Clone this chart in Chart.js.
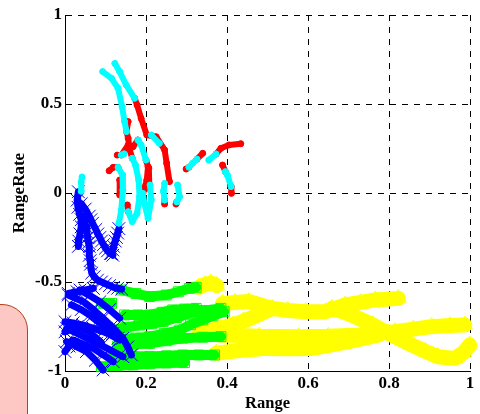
<!DOCTYPE html>
<html>
<head>
<meta charset="utf-8">
<title>Range vs RangeRate</title>
<script src="https://cdn.jsdelivr.net/npm/chart.js@4/dist/chart.umd.min.js"></script>
<style>
	html, body { margin: 0; padding: 0; background: #fff; overflow: hidden; }
	#wrap { position: relative; width: 480px; height: 414px; }
	#note {
		position: absolute; left: -30px; top: 304px; width: 56px; height: 140px;
		background: #fdc8c4; border: 1px solid #b5401a; border-radius: 26px;
	}
	canvas { position: absolute; left: 0; top: 0; }
</style>
</head>
<body>
<div id="wrap">
	<div id="note"></div>
	<canvas id="myChart" width="480" height="414"></canvas>
</div>
<script>
// tick labels
const xTicks = ['0', '0.2', '0.4', '0.6', '0.8', '1'];
const yTicks = ['-1', '-0.5', '0', '0.5', '1'];

// cyan tracks, [range, rangeRate]
const cyanA = [[.123, .728], [.135, .682], [.151, .607], [.172, .532]];
const cyanB = [[.093, .682], [.115, .644], [.131, .588], [.141, .485], [.147, .401], [.152, .345]];
const cyanC = [[.166, .195], [.174, .157], [.182, .073], [.184, -.021], [.178, -.114], [.166, -.161], [.156, -.105]];
const cyanD = [[.18, .298], [.188, .27], [.2, .185]];
const cyanE = [[.192, -.002], [.196, -.058], [.205, -.142], [.213, -.039], [.21, .045]];
const cyanF = [[.131, .144], [.142, .101], [.143, .017], [.139, -.096], [.133, -.17]];
const cyanG = [[.246, .054], [.243, .01], [.246, -.04]];
const cyanH = [[.278, .045], [.283, -.021], [.276, -.05]];
const cyanI = [[.306, .145], [.315, .167], [.326, .19]];
const cyanJ = [[.355, .185], [.373, .219]];
const cyanK = [[.396, .12], [.401, .101], [.41, .036]];
const cyanL = [[.213, .326], [.233, .279]];
const cyanM = [[.139, .213], [.146, .22]];
const cyanN = [[.04, .01], [.04, .06], [.042, .09]];

// red tracks
const redA = [[.172, .532], [.178, .494], [.188, .419], [.202, .326], [.225, .316], [.246, .242], [.251, .167], [.258, .064]];
const redB = [[.156, .401], [.152, .345], [.156, .307], [.16, .242], [.166, .195]];
const redC = [[.129, .213], [.139, .213], [.156, .27], [.168, .26], [.18, .298]];
const redD = [[.2, .185], [.205, .148], [.202, .073], [.192, -.002]];
const redE = [[.207, .14], [.208, .05], [.197, .02]];
const redF = [[.109, .125], [.119, .144], [.131, .144]];
const redG = [[.135, .073], [.135, -.011]];
const redH = [[.156, -.105], [.154, -.067]];
const redI = [[.246, -.04], [.246, -.062]];
const redJ = [[.276, -.05], [.274, -.062]];
const redK = [[.299, .135], [.306, .145]];
const redL = [[.326, .19], [.34, .223]];
const redM = [[.373, .219], [.385, .251], [.405, .27], [.434, .277]];
const redN = [[.389, .157], [.396, .12]];
const redO = [[.41, .036], [.411, -.002]];

// blue tracks
const blueA = [[.033, .007], [.03, -.04], [.032, -.08], [.036, -.12], [.04, -.15], [.04, -.19], [.037, -.23], [.034, -.27], [.033, -.3]];
const blueB = [[.04, -.06], [.05, -.09], [.06, -.13], [.064, -.15], [.068, -.17], [.076, -.205], [.081, -.23], [.086, -.25], [.09, -.27], [.095, -.29], [.1, -.31], [.105, -.325], [.112, -.34], [.118, -.35]];
const blueC = [[.045, -.13], [.052, -.19], [.054, -.22], [.056, -.25], [.058, -.28], [.06, -.3], [.06, -.35], [.062, -.38], [.063, -.4], [.066, -.45], [.072, -.47], [.08, -.49], [.09, -.5], [.1, -.51], [.11, -.52], [.12, -.53], [.13, -.535], [.14, -.54]];
const blueD = [[.115, -.34], [.118, -.32], [.12, -.3], [.124, -.27], [.127, -.25], [.13, -.225], [.133, -.2]];
const blueE = [[.008, -.564], [.03, -.555], [.05, -.545], [.07, -.536]];
const blueF = [[.008, -.573], [.025, -.59], [.045, -.61], [.07, -.655], [.094, -.704], [.12, -.76], [.143, -.816], [.155, -.865], [.164, -.91]];
const blueG = [[.037, -.545], [.06, -.575], [.086, -.611], [.11, -.655], [.135, -.704]];
const blueH = [[.016, -.629], [.04, -.655], [.061, -.685], [.08, -.72], [.102, -.76], [.118, -.79], [.131, -.816]];
const blueI = [[0, -.723], [.02, -.73], [.045, -.742], [.07, -.76], [.094, -.779], [.115, -.8], [.135, -.826]];
const blueJ = [[0, -.891], [.01, -.86], [.02, -.826], [.045, -.85], [.07, -.873], [.095, -.91], [.119, -.948]];
const blueK = [[.004, -.835], [.03, -.865], [.053, -.891], [.075, -.94], [.094, -.994]];
const blueL = [[.004, -.76], [.04, -.8], [.078, -.844], [.11, -.88], [.143, -.92]];
const blueM = [[0, -.78], [.03, -.75], [.06, -.78], [.09, -.84]];

// green tracks
const greenA = [[.139, -.545], [.175, -.565], [.209, -.582], [.25, -.573], [.28, -.555], [.307, -.536], [.324, -.53]];
const greenB = [[.147, -.685], [.18, -.685], [.209, -.685], [.24, -.67], [.266, -.657], [.295, -.652], [.324, -.648]];
const greenC = [[.119, -.77], [.15, -.755], [.184, -.742], [.215, -.735], [.242, -.723], [.275, -.7], [.307, -.676], [.345, -.66], [.385, -.648]];
const greenD = [[.14, -.82], [.175, -.815], [.209, -.807], [.245, -.79], [.283, -.77], [.31, -.74], [.34, -.713], [.365, -.69], [.393, -.667]];
const greenE = [[.13, -.86], [.17, -.85], [.209, -.845], [.25, -.83], [.291, -.816], [.34, -.81], [.385, -.807]];
const greenF = [[.119, -.91], [.165, -.915], [.209, -.919], [.25, -.915], [.291, -.91], [.33, -.91], [.369, -.91]];
const greenG = [[.09, -.976], [.13, -.97], [.168, -.966], [.21, -.96], [.25, -.955], [.295, -.953]];
const greenH = [[.09, -.62], [.115, -.62]];

// yellow tracks
const yellowA = [[.33, -.53], [.345, -.515], [.36, -.505], [.375, -.52]];
const yellowB = [[.389, -.62], [.42, -.615], [.454, -.61], [.512, -.648], [.55, -.66], [.594, -.667], [.643, -.667], [.692, -.629], [.73, -.615], [.766, -.601], [.823, -.592]];
const yellowC = [[.332, -.788], [.37, -.765], [.414, -.742], [.44, -.72], [.467, -.695], [.512, -.648]];
const yellowD = [[.381, -.798], [.43, -.8], [.48, -.805], [.577, -.807], [.65, -.805], [.733, -.798], [.815, -.779], [.86, -.765], [.905, -.751], [.95, -.745], [.987, -.742]];
const yellowE = [[.373, -.9], [.43, -.885], [.496, -.873], [.55, -.875], [.61, -.873], [.655, -.855], [.7, -.835], [.74, -.815], [.774, -.798]];
const yellowF = [[.659, -.648], [.69, -.67], [.716, -.695], [.76, -.74], [.798, -.788], [.856, -.854], [.89, -.89], [.921, -.92], [.963, -.929], [.985, -.895], [.9995, -.854]];

function track(points, color, style, radius, width, order) {
	return {
		data: points.map(function (p) { return { x: p[0], y: p[1] }; }),
		showLine: true,
		borderColor: color,
		backgroundColor: color,
		borderWidth: width,
		borderCapStyle: 'round',
		borderJoinStyle: 'round',
		pointStyle: style,
		pointRadius: radius,
		pointBorderColor: color,
		pointBackgroundColor: style === 'circle' ? color : 'rgba(0,0,0,0)',
		pointBorderWidth: 1,
		order: order,
		clip: false,
	};
}

var datasets = [];
[yellowA, yellowB, yellowC, yellowD, yellowE, yellowF].forEach(function (t) {
	datasets.push(track(t, '#ffff00', 'triangle', 9, 15, 4));
});
[greenA, greenB, greenC, greenD, greenE, greenF, greenG, greenH].forEach(function (t) {
	datasets.push(track(t, '#00ff00', 'rect', 7, 10, 3));
});
[blueA, blueB, blueC, blueD, blueE, blueF, blueG, blueH, blueI, blueJ, blueK, blueL, blueM].forEach(function (t) {
	datasets.push(track(t, '#0000ff', 'crossRot', 9, 7, 2));
});
[redA, redB, redC, redD, redE, redF, redG, redH, redI, redJ, redK, redL, redM, redN, redO].forEach(function (t) {
	datasets.push(track(t, '#ff0000', 'circle', 3, 6, 1));
});
[cyanA, cyanB, cyanC, cyanD, cyanE, cyanF, cyanG, cyanH, cyanI, cyanJ, cyanK, cyanL, cyanM, cyanN].forEach(function (t) {
	datasets.push(track(t, '#00ffff', 'circle', 3, 6, 0));
});

var tickFont = { family: '"Liberation Serif"', size: 17, weight: 'bold' };
var gridStyle = { color: '#000', lineWidth: 1, drawTicks: false };

new Chart(document.getElementById('myChart'), {
	type: 'scatter',
	data: { datasets: datasets },
	options: {
		responsive: false,
		animation: false,
		layout: { padding: { left: 0, right: 8, top: 15, bottom: 0 } },
		plugins: { legend: { display: false }, tooltip: { enabled: false } },
		scales: {
			x: {
				min: 0, max: 1,
				grid: gridStyle,
				border: { display: true, color: '#000', dash: [6, 6] },
				afterFit: function (axis) { axis.height = 43; },
				ticks: {
					stepSize: 0.2, color: '#000', font: tickFont, padding: 2, maxRotation: 0,
					callback: function (v, i) { return xTicks[i]; },
				},
				title: { display: true, text: 'Range', color: '#000', padding: 0,
					font: { family: '"Liberation Serif"', size: 16.5, weight: 'bold' } },
			},
			y: {
				min: -1, max: 1,
				grid: gridStyle,
				border: { display: true, color: '#000', dash: [6, 6] },
				afterFit: function (axis) { axis.width = 65; },
				ticks: {
					stepSize: 0.5, color: '#000', font: tickFont, padding: 3,
					callback: function (v, i) { return yTicks[i]; },
				},
				title: { display: true, text: 'RangeRate', color: '#000', padding: { top: 9, bottom: 0 },
					font: { family: '"Liberation Serif"', size: 17, weight: 'bold' } },
			},
		},
	},
});
</script>
</body>
</html>
